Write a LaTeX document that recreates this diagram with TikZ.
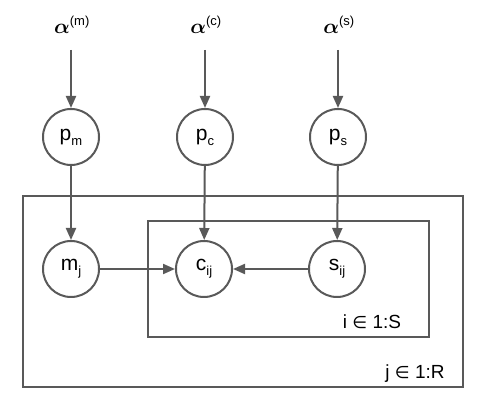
\documentclass[tikz,border=0pt]{standalone}
\usepackage{amsmath,bm}
\usepackage{fontspec}
\setmainfont{Liberation Sans}
\newfontfamily\symfont{DejaVu Sans}
\usetikzlibrary{arrows.meta}
\definecolor{ink}{HTML}{595959}
\newcommand{\elemof}{{\symfont\fontsize{17}{20}\selectfont ∈}}
\newcommand{\lowsub}[1]{\raisebox{-5pt}{\fontsize{13}{15}\selectfont #1}}
\begin{document}
\begin{tikzpicture}[x=1pt,y=-1pt,
  var/.style={circle,draw=ink,line width=2pt,minimum size=56pt,inner sep=0pt,font=\fontsize{21}{24}\selectfont},
  hyper/.style={inner sep=1pt,font=\fontsize{21}{24}\selectfont},
  edge/.style={draw=ink,line width=2pt,-{Triangle[length=12pt,width=10pt]}},
  plate/.style={draw=ink,line width=1.2pt},
  platelabel/.style={inner sep=0pt,font=\fontsize{19}{22}\selectfont}]
\useasboundingbox (0,0) rectangle (490,419);
% plates
\draw[plate] (23,196) rectangle (463,387);
\draw[plate] (148,221) rectangle (429,337);
\node[platelabel] (ilab) at (372,322) {i \elemof{} 1:S};
\node[platelabel] (jlab) at (415,374) {j \elemof{} 1:R};
% hyperparameters
\node[hyper] (am) at (72,25) {$\bm{\alpha}^{\text{\fontsize{13}{15}\selectfont(m)}}$};
\node[hyper] (ac) at (206,25) {$\bm{\alpha}^{\text{\fontsize{13}{15}\selectfont(c)}}$};
\node[hyper] (as) at (339,25) {$\bm{\alpha}^{\text{\fontsize{13}{15}\selectfont(s)}}$};
\coordinate (amb) at (71,50);
\coordinate (acb) at (205,50);
\coordinate (asb) at (338,50);
% variables
\node[var] (pm) at (71,137) {p\lowsub{m}};
\node[var] (pc) at (205,137) {p\lowsub{c}};
\node[var] (ps) at (338,137) {p\lowsub{s}};
\node[var] (mj) at (71,269) {m\lowsub{j}};
\node[var] (cij) at (204,269) {c\lowsub{ij}};
\node[var] (sij) at (337,269) {s\lowsub{ij}};
% edges
\draw[edge] (amb) -- (pm);
\draw[edge] (acb) -- (pc);
\draw[edge] (asb) -- (ps);
\draw[edge] (pm) -- (mj);
\draw[edge] (pc) -- (cij);
\draw[edge] (ps) -- (sij);
\draw[edge] (mj) -- (cij);
\draw[edge] (sij) -- (cij);
\end{tikzpicture}
\end{document}
